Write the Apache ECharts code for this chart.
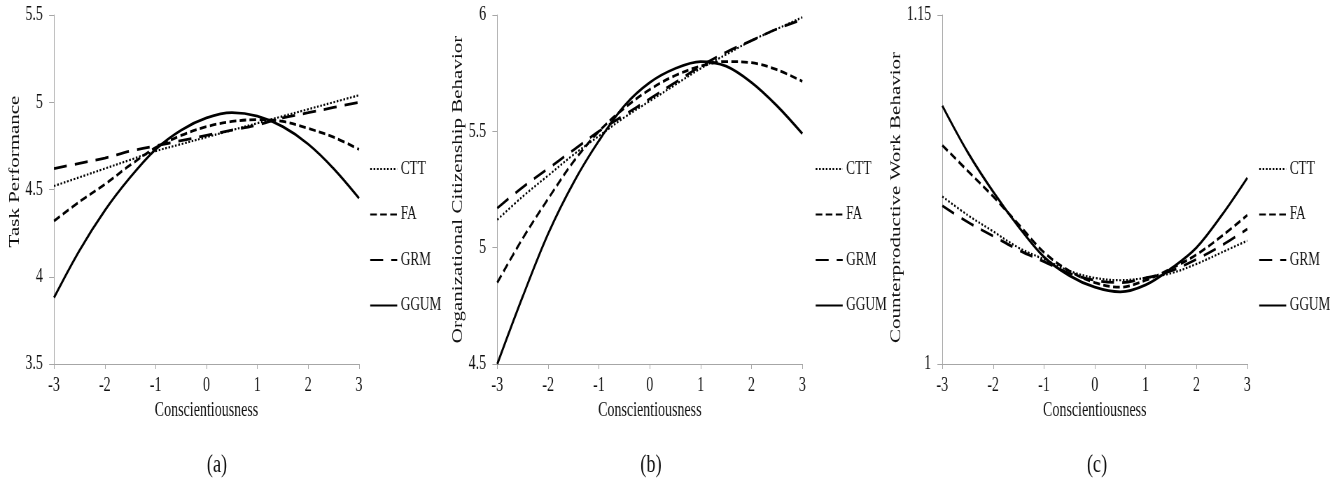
<!DOCTYPE html>
<html>
<head>
<meta charset="utf-8">
<script src="https://cdn.jsdelivr.net/npm/echarts@6/dist/echarts.min.js"></script>
<style>
  html, body { margin: 0; padding: 0; background: #fff; overflow: hidden; }
  /* the source figure is squeezed sideways, so draw wide and squeeze it the same way */
  #chart { width: 1914px; height: 484px; transform: scaleX(0.7); transform-origin: 0 0; }
</style>
</head>
<body>
<div id="chart"></div>
<script>
const S = 0.7
const fx = v => v / S

const xs = [-3, -2.5, -2, -1.5, -1, -0.5, 0, 0.5, 1, 1.5, 2, 2.5, 3]
const models = ['CTT', 'FA', 'GRM', 'GGUM']

// (a) Task Performance
const aCTT = [4.52, 4.57, 4.62, 4.67, 4.72, 4.76, 4.80, 4.84, 4.88, 4.92, 4.96, 5.00, 5.04]
const aFA = [4.32, 4.43, 4.53, 4.64, 4.74, 4.81, 4.86, 4.89, 4.90, 4.89, 4.85, 4.80, 4.73]
const aGRM = [4.62, 4.65, 4.68, 4.72, 4.75, 4.78, 4.81, 4.84, 4.87, 4.91, 4.94, 4.97, 5.00]
const aGGUM = [3.88, 4.15, 4.38, 4.57, 4.73, 4.84, 4.91, 4.94, 4.92, 4.86, 4.76, 4.62, 4.45]

// (b) Organizational Citizenship Behavior
const bCTT = [5.12, 5.22, 5.31, 5.40, 5.48, 5.56, 5.63, 5.70, 5.77, 5.83, 5.89, 5.94, 5.99]
const bFA = [4.85, 5.04, 5.21, 5.37, 5.50, 5.60, 5.68, 5.74, 5.78, 5.80, 5.795, 5.765, 5.715]
const bGRM = [5.17, 5.26, 5.34, 5.42, 5.50, 5.57, 5.64, 5.71, 5.78, 5.84, 5.89, 5.94, 5.98]
const bGGUM = [4.50, 4.79, 5.06, 5.28, 5.46, 5.61, 5.71, 5.77, 5.80, 5.78, 5.71, 5.61, 5.49]

// (c) Counterproductive Work Behavior
const cCTT = [1.072, 1.064, 1.057, 1.050, 1.045, 1.040, 1.037, 1.036, 1.037, 1.039, 1.043, 1.048, 1.053]
const cFA = [1.094, 1.083, 1.072, 1.060, 1.048, 1.040, 1.035, 1.033, 1.036, 1.041, 1.047, 1.055, 1.064]
const cGRM = [1.068, 1.061, 1.055, 1.049, 1.044, 1.039, 1.036, 1.035, 1.037, 1.040, 1.045, 1.051, 1.058]
const cGGUM = [1.111, 1.091, 1.074, 1.059, 1.046, 1.038, 1.033, 1.031, 1.034, 1.041, 1.050, 1.064, 1.080]

const yNames = ['Task Performance', 'Organizational Citizenship Behavior', 'Counterproductive Work Behavior']
const yMin = [3.5, 4.5, 1]
const yMax = [5.5, 6, 1.15]
const panelLabels = ['(a)', '(b)', '(c)']

const panels = [
  [aCTT, aFA, aGRM, aGGUM],
  [bCTT, bFA, bGRM, bGGUM],
  [cCTT, cFA, cGRM, cGGUM]
]

// layout in final (squeezed) pixels
const gridLeft = [54, 497.3, 942.3]
const gridWidth = 305
const legendLeft = [366, 811.5, 1255]
const labelX = [217, 651, 1097]
const namePad = [[0, 0, 0, 36], [0, 0, 0, 0], [0, 16, 0, 0]]

const lineStyles = {
  CTT: { type: [2.4, 2.4], width: 2.2 },
  FA: { type: [9.5, 4.8], width: 2.8 },
  GRM: { type: [18.5, 11.5], width: 2.8 },
  GGUM: { type: 'solid', width: 2.8 }
}

const axisGray = '#a6a6a6'
const font = 'Liberation Serif'

const chart = echarts.init(document.getElementById('chart'))

const grid = gridLeft.map(l => ({ left: fx(l), width: fx(gridWidth), top: 15, height: 349 }))

const xAxis = gridLeft.map((l, i) => ({
  type: 'value',
  gridIndex: i,
  min: -3,
  max: 3,
  interval: 1,
  name: 'Conscientiousness',
  nameLocation: 'middle',
  nameGap: 35,
  nameTextStyle: { fontSize: 20, color: '#111', fontFamily: font },
  axisLine: { onZero: false, lineStyle: { color: axisGray, width: 1 } },
  axisTick: { show: true, length: 5, lineStyle: { color: axisGray } },
  axisLabel: { fontSize: 20, color: '#111', fontFamily: font, margin: 12 },
  splitLine: { show: false }
}))

const yAxis = yNames.map((n, i) => {
  const ax = {
    type: 'value',
    gridIndex: i,
    min: yMin[i],
    max: yMax[i],
    name: n,
    nameLocation: 'middle',
    nameGap: 45,
    nameTextStyle: { fontSize: 21, color: '#111', fontFamily: font, padding: namePad[i] },
    axisLine: { show: true, onZero: false, lineStyle: { color: axisGray, width: 1 } },
    axisTick: { show: true, length: 7, lineStyle: { color: axisGray } },
    axisLabel: { fontSize: 20, color: '#111', fontFamily: font, margin: 16 },
    splitLine: { show: false }
  }
  if (i === 2) {
    ax.axisTick.customValues = [1, 1.15]
    ax.axisLabel.customValues = [1, 1.15]
  } else {
    ax.interval = 0.5
  }
  return ax
})

const series = []
panels.forEach((vals, g) => {
  models.forEach((m, k) => {
    series.push({
      name: m,
      type: 'line',
      xAxisIndex: g,
      yAxisIndex: g,
      smooth: 0.35,
      symbol: 'none',
      lineStyle: { color: '#000', width: lineStyles[m].width, type: lineStyles[m].type },
      itemStyle: { color: '#000' },
      data: xs.map((x, j) => [x, vals[k][j]])
    })
  })
})

const legend = legendLeft.map(l => ({
  orient: 'vertical',
  left: fx(l),
  top: 154,
  itemWidth: fx(27),
  itemHeight: 12,
  itemGap: 25.5,
  data: models,
  selectedMode: false,
  itemStyle: { opacity: 0 },
  textStyle: { fontSize: 19, color: '#111', fontFamily: font, lineHeight: 20 }
}))

const graphic = panelLabels.map((t, i) => ({
  type: 'text',
  x: fx(labelX[i]),
  y: 465,
  style: {
    text: t,
    font: '26px "Liberation Serif"',
    fill: '#111',
    textAlign: 'center',
    textVerticalAlign: 'middle'
  }
}))

chart.setOption({
  animation: false,
  textStyle: { fontFamily: font },
  grid: grid,
  xAxis: xAxis,
  yAxis: yAxis,
  legend: legend,
  graphic: graphic,
  series: series
})
</script>
</body>
</html>
